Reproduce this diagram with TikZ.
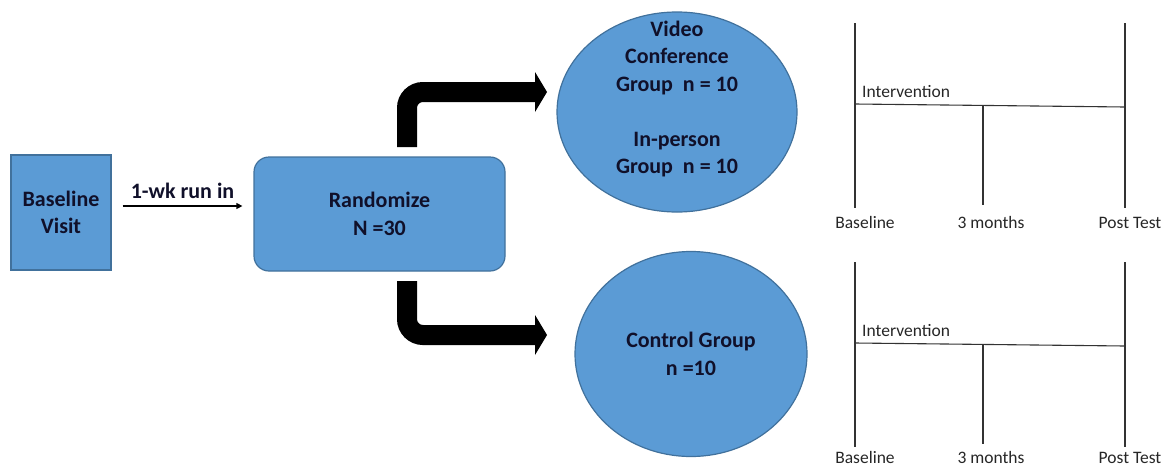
\documentclass[tikz,border=0pt]{standalone}
\usepackage{fontspec}
\setmainfont{Carlito}
\usetikzlibrary{shapes.geometric,arrows.meta}
\definecolor{boxblue}{HTML}{5B9BD5}
\definecolor{boxedge}{HTML}{41719C}
\definecolor{inkdark}{HTML}{10102A}
\begin{document}
\begin{tikzpicture}[x=1pt,y=-1pt,
		blockfill/.style={fill=boxblue,draw=boxedge,line width=1.2pt,align=center,text=inkdark,
			font=\fontsize{22}{27.5}\selectfont\bfseries},
		bigarrow/.style={line width=20pt,rounded corners=16pt,
			-{Triangle[width=40pt,length=12pt,line width=0pt]}},
		tickline/.style={line width=1.1pt,draw=black!80},
		ticklabel/.style={inner sep=0pt,text=black!85,font=\fontsize{17.5}{20}\selectfont}]
	\useasboundingbox (0,0) rectangle (1165,469);
	% boxes
	\node[blockfill,minimum width=100pt,minimum height=115pt] (base) at (61,212.5)
		{Baseline\\Visit};
	\node[blockfill,rounded corners=15pt,minimum width=251pt,minimum height=114pt] (rand) at (379.5,214)
		{Randomize\\N =30};
	\node[blockfill,ellipse,minimum width=240pt,minimum height=200pt] (video) at (677,112) {};
	\node[align=center,text=inkdark,font=\fontsize{22}{27.5}\selectfont\bfseries] (vtext) at (677,99)
		{Video\\Conference\\Group~~n = 10\\[27.5pt]In-person\\Group~~n = 10};
	\node[blockfill,ellipse,minimum width=232pt,minimum height=205pt] (control) at (691,354)
		{Control Group\\n =10};
	% connectors
	\draw[line width=1.2pt,-{Triangle[width=6pt,length=6pt]},shorten <=11pt,shorten >=11pt]
		([yshift=6.5pt]base.east) -- ([yshift=6.5pt]base.east -| rand.west)
		node[midway,above=3pt,text=inkdark,font=\fontsize{22}{27.5}\selectfont\bfseries] (runin) {1-wk run in};
	\coordinate (up-start) at (407,147);
	\coordinate (up-end) at (547,92);
	\coordinate (down-start) at (407,281);
	\coordinate (down-end) at (547,335);
	\draw[bigarrow] (up-start) |- (up-end);
	\draw[bigarrow] (down-start) |- (down-end);
	% timelines
	\foreach \o/\n/\t in {0/a/0,239/b/235} {
		\coordinate (tl\n-lt) at (855,23+\o);
		\coordinate (tl\n-lb) at (855,208+\o);
		\coordinate (tl\n-rt) at (1125,23+\o);
		\coordinate (tl\n-rb) at (1125,208+\o);
		\coordinate (tl\n-hl) at (855,104+\o);
		\coordinate (tl\n-hr) at (1125,107+\o);
		\coordinate (tl\n-mt) at (983,105.5+\o);
		\coordinate (tl\n-mb) at (983,205+\o);
		\draw[tickline] (tl\n-lt) -- (tl\n-lb);
		\draw[tickline] (tl\n-rt) -- (tl\n-rb);
		\draw[tickline] (tl\n-hl) -- (tl\n-hr);
		\draw[tickline] (tl\n-mt) -- (tl\n-mb);
		\node[ticklabel,anchor=base west] (tl\n-int) at (862,97+\o) {Intervention};
		\node[ticklabel] (tl\n-base) at (865,222+\t) {Baseline};
		\node[ticklabel] (tl\n-mid) at (991,222+\t) {3 months};
		\node[ticklabel] (tl\n-post) at (1130,223+\t) {Post Test};
	}
\end{tikzpicture}
\end{document}
